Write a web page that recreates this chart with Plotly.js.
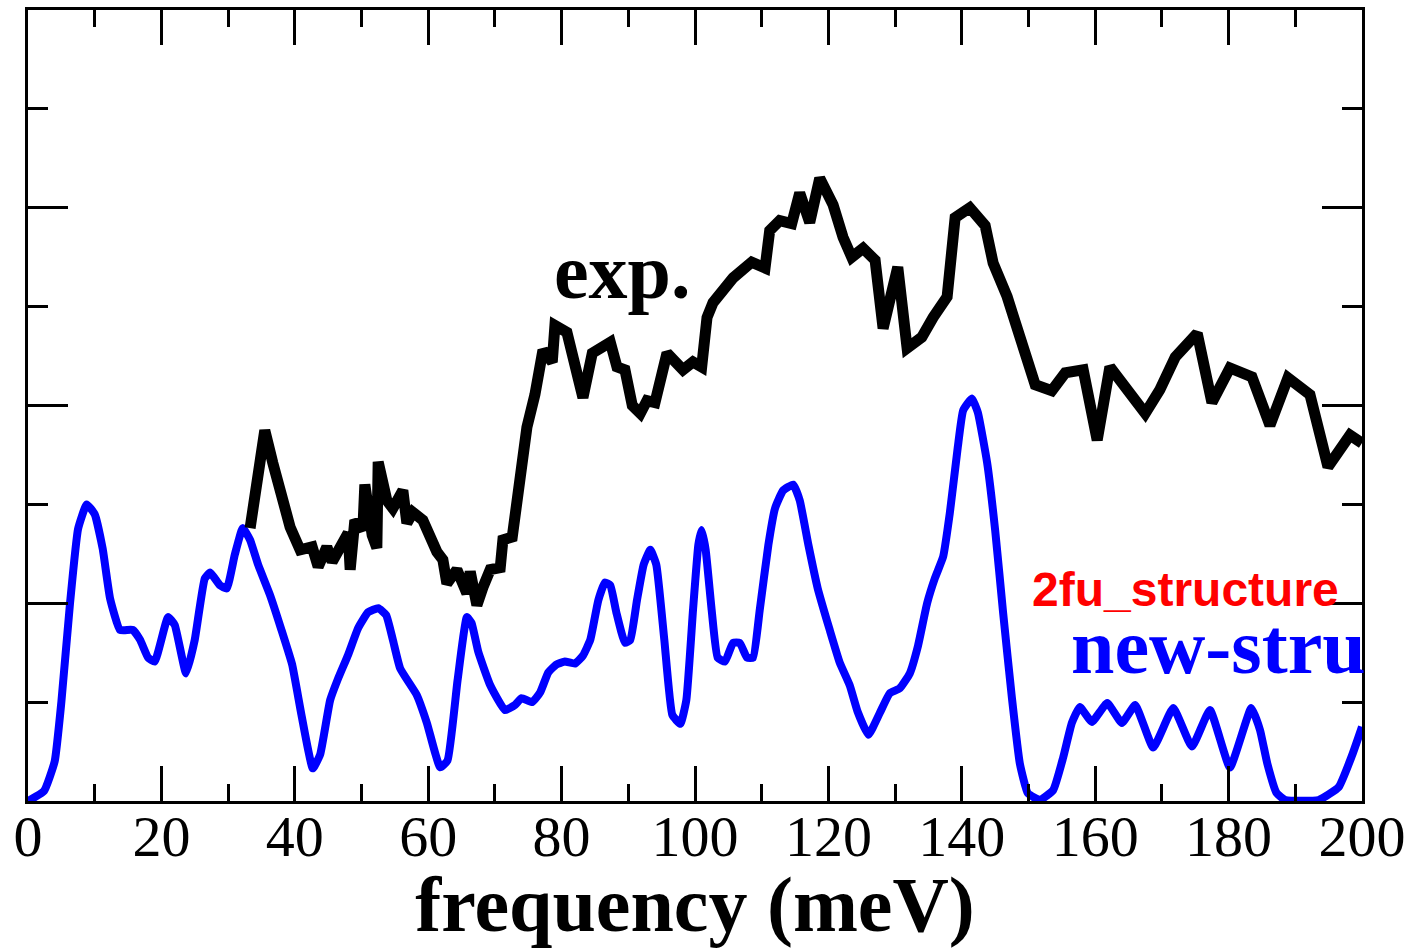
<!DOCTYPE html>
<html>
<head>
<meta charset="utf-8">
<script src="https://cdn.plot.ly/plotly-3.0.1.min.js"></script>
<style>html,body{margin:0;padding:0;background:#fff;}#chart{width:1416px;height:948px;}</style>
</head>
<body>
<div id="chart"></div>
<script>
// Calculated spectrum (blue, "new-stru")
const calcFreq = [0,2.4,4,5,6.3,7.5,8.8,10,11.2,12.3,13.8,15.7,16.8,18.0,19.0,21,22,23.7,25,26.5,27.3,28.8,29.8,31,32.2,33.3,34.5,36.3,38,39.6,41,42.7,43.8,45.3,46.5,48,49.5,51,52.5,53.7,54.7,55.8,58.3,59.8,61.8,62.9,64.4,65.8,66.5,67.5,69.3,71.5,73,74,75.6,76.8,78,79.2,80.5,82,83.2,84.3,85.5,86.5,87.3,88.2,89.5,90.3,91.3,92.3,93.3,94.2,95.4,96.6,97.8,98.7,99.7,100.5,101,101.6,102.5,103.4,104.5,105.7,106.7,107.8,108.7,109.7,111,112,113.2,114.7,115.7,117,118.4,120.2,121.7,123.2,124.4,126,127.7,129.2,130.7,132.2,133.4,134.8,136,137.2,138.2,139.4,140.2,141.5,142.4,143.8,145,146.2,147.5,148.7,149.9,151.7,153.7,155.2,156.5,157.7,159.5,161.8,164,166,168.7,171.7,174.5,177.2,180.2,183.4,184.7,185.8,187.2,188.5,193.5,196.5,198.5,200];
const calcInt = [0,0.1,0.4,1.0,2.0,2.75,3.0,2.9,2.55,2.05,1.73,1.73,1.63,1.45,1.41,1.86,1.78,1.29,1.63,2.25,2.31,2.18,2.15,2.49,2.76,2.64,2.39,2.08,1.73,1.38,0.87,0.33,0.47,1.02,1.24,1.48,1.75,1.91,1.95,1.88,1.63,1.34,1.07,0.79,0.34,0.41,1.22,1.86,1.80,1.51,1.17,0.92,0.97,1.04,1.0,1.10,1.30,1.38,1.41,1.39,1.47,1.63,2.03,2.21,2.18,1.91,1.60,1.63,2.03,2.39,2.54,2.39,1.63,0.87,0.78,1.02,1.93,2.59,2.74,2.54,1.93,1.45,1.41,1.60,1.60,1.45,1.45,1.93,2.59,2.96,3.14,3.2,3.04,2.59,2.15,1.73,1.40,1.17,0.90,0.67,0.89,1.09,1.14,1.29,1.56,2.0,2.26,2.47,2.91,3.58,3.95,4.07,3.93,3.42,2.74,1.90,1.05,0.38,0.08,0.01,0.11,0.44,0.79,0.95,0.80,0.99,0.79,0.97,0.54,0.94,0.55,0.92,0.34,0.94,0.72,0.38,0.08,0.01,0.01,0.14,0.46,0.75];

// Experimental spectrum (black, "exp.")
const expFreq = [33.3,35.5,36.7,37.8,39.3,40.8,42.6,43.5,44.8,45.6,46.8,48.0,48.3,49.0,50.2,50.5,51.6,52.3,52.5,53.8,54.7,56.2,56.8,57.7,59.2,60.0,61.3,62.2,62.8,64.3,65.8,66.3,67.3,68.2,69.3,70.8,71.2,72.6,73.3,74.2,74.8,76.0,77.2,78.6,79.0,80.8,83.2,84.6,87.3,88.3,89.5,90.6,91.8,92.8,94.0,95.8,98.2,99.7,101.0,101.8,102.7,105.7,108.5,110.5,111.2,112.7,114.5,115.7,117.2,118.7,120.7,122.2,123.5,125.2,127.0,128.2,130.4,131.8,134.0,135.7,137.8,139.0,141.2,143.5,144.7,146.8,148.7,151.0,153.5,155.5,158.2,160.3,162.2,167.5,169.7,172.0,175.3,177.5,180.2,183.5,186.2,188.9,192.2,194.9,198.2,200.0];
const expInt = [2.76,3.75,3.42,3.14,2.77,2.54,2.57,2.37,2.57,2.42,2.57,2.71,2.34,2.84,2.74,3.20,2.69,2.56,3.43,3.04,2.96,3.14,2.81,2.92,2.84,2.71,2.52,2.44,2.20,2.34,2.10,2.32,1.98,2.16,2.34,2.36,2.64,2.67,2.97,3.52,3.78,4.11,4.56,4.44,4.81,4.74,4.08,4.53,4.64,4.39,4.36,4.00,3.92,4.05,4.03,4.53,4.36,4.44,4.39,4.89,5.04,5.29,5.45,5.39,5.77,5.87,5.84,6.15,5.85,6.30,6.03,5.70,5.50,5.59,5.47,4.78,5.40,4.58,4.69,4.89,5.10,5.90,6.00,5.82,5.44,5.10,4.69,4.21,4.15,4.33,4.36,3.65,4.39,3.92,4.16,4.49,4.73,4.03,4.38,4.29,3.80,4.28,4.11,3.38,3.70,3.62];

const xTickVals = [0,20,40,60,80,100,120,140,160,180,200];
const xTickText = ['0','20','40','60','80','100','120','140','160','180','200'];

const traces = [
  {x: calcFreq, y: calcInt, type: 'scatter', mode: 'lines', name: 'new-stru',
   line: {color: '#0000ff', width: 8, shape: 'spline', smoothing: 0.4}},
  {x: expFreq, y: expInt, type: 'scatter', mode: 'lines', name: 'exp.',
   line: {color: '#000000', width: 11}}
];

const serif = '"Liberation Serif", "Times New Roman", serif';

const layout = {
  width: 1416, height: 948,
  margin: {l: 28, r: 54, t: 10, b: 147},
  paper_bgcolor: '#fff', plot_bgcolor: '#fff',
  showlegend: false,
  xaxis: {
    range: [0, 200], showgrid: false, zeroline: false,
    showline: true, linecolor: '#000', linewidth: 3, mirror: 'ticks',
    ticks: 'inside', ticklen: 35, tickwidth: 3, tickcolor: '#000',
    tickvals: xTickVals, ticktext: xTickText,
    ticklabelstandoff: -18,
    tickfont: {family: serif, size: 58, color: '#000'},
    minor: {dtick: 10, ticklen: 17, tickwidth: 3, tickcolor: '#000', ticks: 'inside', showgrid: false},
    title: {text: '<b>frequency (meV)</b>', font: {family: serif, size: 78, color: '#000'}, standoff: 8}
  },
  yaxis: {
    range: [0, 8], showgrid: false, zeroline: false,
    showline: true, linecolor: '#000', linewidth: 3, mirror: 'ticks',
    ticks: 'inside', ticklen: 40, tickwidth: 3, tickcolor: '#000',
    dtick: 2, showticklabels: false,
    minor: {dtick: 1, ticklen: 20, tickwidth: 3, tickcolor: '#000', ticks: 'inside', showgrid: false}
  },
  annotations: [
    {x: 89.2, y: 5.36, xref: 'x', yref: 'y', text: '<b>exp.</b>', showarrow: false,
     font: {family: serif, size: 78, color: '#000'}, xanchor: 'center', yanchor: 'middle'},
    {x: 173.5, y: 2.14, xref: 'x', yref: 'y', text: '<b>2fu_structure</b>', showarrow: false, borderpad: 0,
     font: {family: '"Liberation Sans", Arial, sans-serif', size: 48, color: '#ff0000'}, xanchor: 'center', yanchor: 'middle'},
    {x: 156.2, y: 1.56, xref: 'x', yref: 'y', text: '<b>new-stru</b>', showarrow: false, borderpad: 0,
     font: {family: serif, size: 78, color: '#0000ff'}, xanchor: 'left', yanchor: 'middle'}
  ]
};

Plotly.newPlot('chart', traces, layout, {displayModeBar: false, staticPlot: true});
</script>
</body>
</html>
